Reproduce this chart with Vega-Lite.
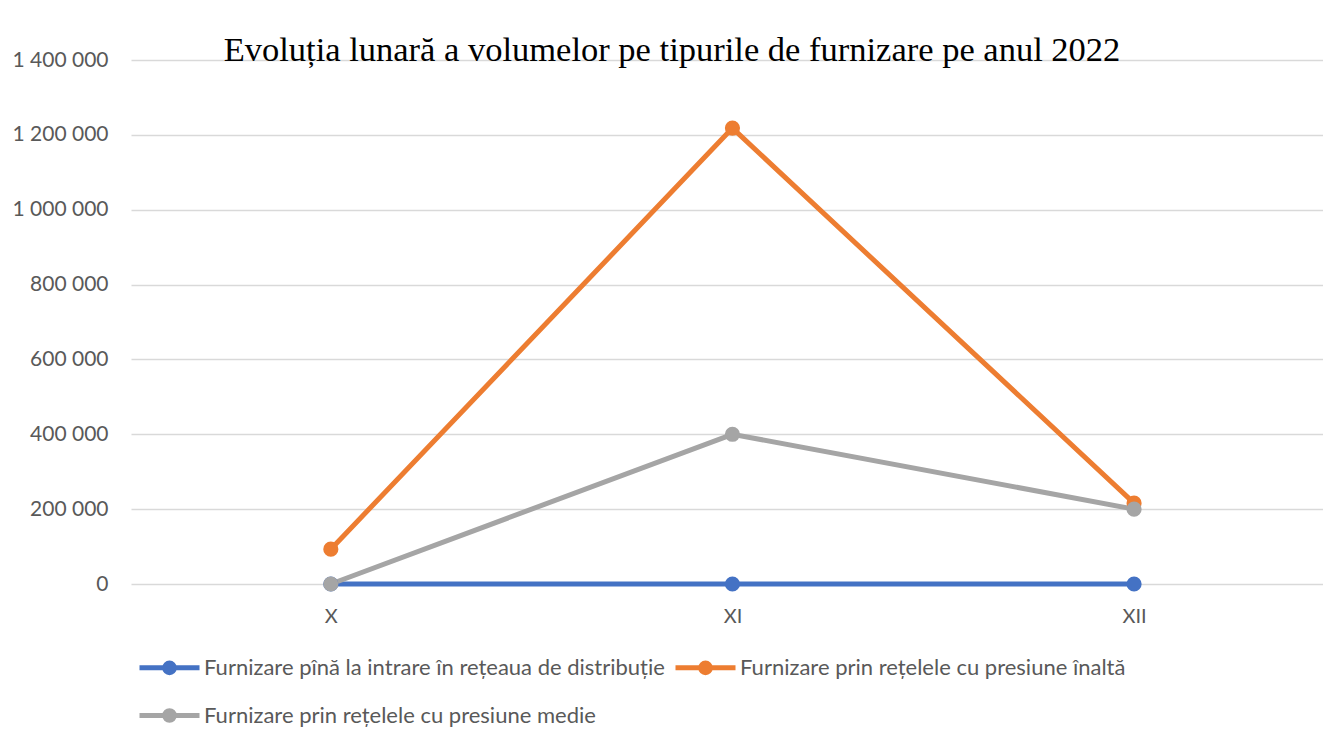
{
  "$schema": "https://vega.github.io/schema/vega-lite/v6.json",
  "width": 1192,
  "height": 524,
  "autosize": {"type": "none"},
  "padding": {"left": 131, "top": 60, "right": 0, "bottom": 156},
  "config": {
    "locale": {"number": {"decimal": ",", "thousands": " ", "grouping": [3], "currency": ["", ""]}},
    "view": {"stroke": null},
    "font": "Lato"
  },
  "title": {
    "text": "Evoluția lunară a volumelor pe tipurile de furnizare pe anul 2022",
    "font": "Liberation Serif",
    "fontSize": 34.5,
    "fontWeight": "normal",
    "color": "#000000",
    "anchor": "middle",
    "frame": "group",
    "dx": -55,
    "offset": -46,
    "baseline": "alphabetic"
  },
  "data": {
    "values": [
      {"serie": "Furnizare pînă la intrare în rețeaua de distribuție", "luna": "X", "volum": 0},
      {"serie": "Furnizare pînă la intrare în rețeaua de distribuție", "luna": "XI", "volum": 0},
      {"serie": "Furnizare pînă la intrare în rețeaua de distribuție", "luna": "XII", "volum": 0},
      {"serie": "Furnizare prin rețelele cu presiune înaltă", "luna": "X", "volum": 93000},
      {"serie": "Furnizare prin rețelele cu presiune înaltă", "luna": "XI", "volum": 1218000},
      {"serie": "Furnizare prin rețelele cu presiune înaltă", "luna": "XII", "volum": 216000},
      {"serie": "Furnizare prin rețelele cu presiune medie", "luna": "X", "volum": 0},
      {"serie": "Furnizare prin rețelele cu presiune medie", "luna": "XI", "volum": 400000},
      {"serie": "Furnizare prin rețelele cu presiune medie", "luna": "XII", "volum": 200000}
    ]
  },
  "mark": {"type": "line", "strokeWidth": 5, "point": {"size": 230, "filled": true, "opacity": 1}},
  "encoding": {
    "x": {
      "field": "luna",
      "type": "ordinal",
      "sort": ["X", "XI", "XII"],
      "scale": {"type": "point", "padding": 0.484, "align": 0.514},
      "axis": {"title": null, "domain": false, "ticks": false, "grid": false, "labelPadding": 22, "labelFontSize": 20, "labelColor": "#595959", "labelAngle": 0}
    },
    "y": {
      "field": "volum",
      "type": "quantitative",
      "scale": {"domain": [0, 1400000], "nice": false},
      "axis": {
        "title": null,
        "values": [0, 200000, 400000, 600000, 800000, 1000000, 1200000, 1400000],
        "format": ",d",
        "domain": false,
        "ticks": false,
        "labelPadding": 23,
        "labelFontSize": 21,
        "labelColor": "#595959",
        "gridColor": "#D9D9D9",
        "gridWidth": 1.5
      }
    },
    "color": {
      "field": "serie",
      "type": "nominal",
      "scale": {
        "domain": ["Furnizare pînă la intrare în rețeaua de distribuție", "Furnizare prin rețelele cu presiune înaltă", "Furnizare prin rețelele cu presiune medie"],
        "range": ["#4472C4", "#ED7D31", "#A5A5A5"]
      },
      "legend": {
        "title": null,
        "orient": "none",
        "legendX": 6,
        "legendY": 575,
        "direction": "horizontal",
        "columns": 2,
        "columnPadding": 0,
        "rowPadding": -14,
        "labelFontSize": 22,
        "labelColor": "#595959",
        "labelLimit": 800,
        "labelOffset": 2,
        "symbolType": "M-1,0L1,0M0.16,0A0.16,0.16 0 1 1 -0.16,0A0.16,0.16 0 1 1 0.16,0",
        "symbolSize": 3600,
        "symbolStrokeWidth": 5,
        "encode": {
          "symbols": {
            "update": {
              "fill": {"scale": "color", "field": "value"},
              "stroke": {"scale": "color", "field": "value"},
              "opacity": {"value": 1}
            }
          }
        }
      }
    }
  }
}
